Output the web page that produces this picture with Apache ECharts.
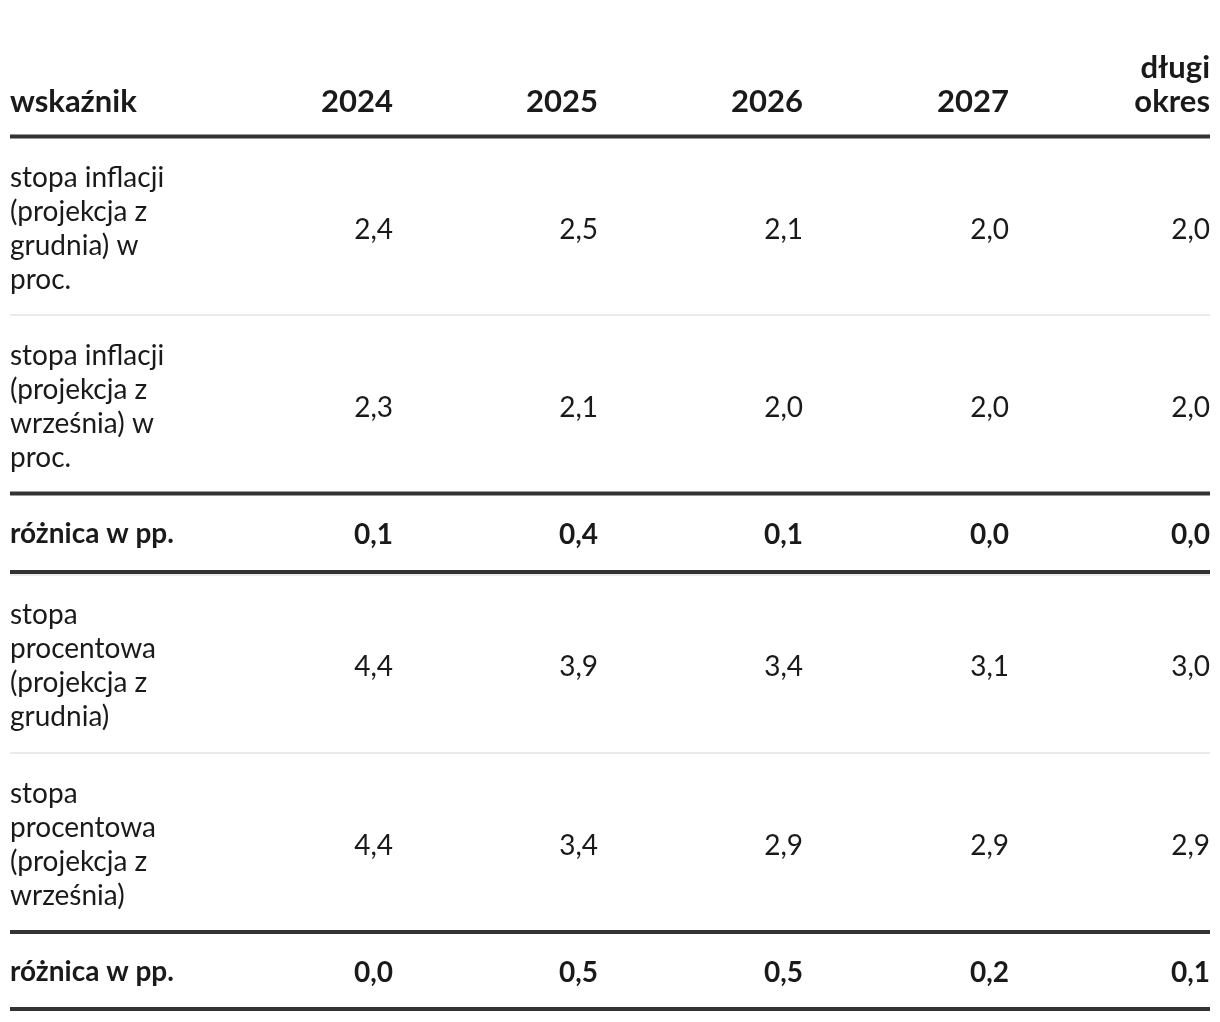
<!DOCTYPE html>
<html>
<head>
<meta charset="utf-8">
<script src="https://cdn.jsdelivr.net/npm/echarts@6/dist/echarts.min.js"></script>
<style>
html,body{margin:0;padding:0;background:#fff;}
#chart{width:1220px;height:1022px;}
</style>
</head>
<body>
<div id="chart"></div>
<script>
// ---- data ----
const headers = ['wskaźnik', '2024', '2025', '2026', '2027', 'długi\nokres'];
const rowLabels = [
  'stopa inflacji\n(projekcja z\ngrudnia) w\nproc.',
  'stopa inflacji\n(projekcja z\nwrześnia) w\nproc.',
  'różnica w pp.',
  'stopa\nprocentowa\n(projekcja z\ngrudnia)',
  'stopa\nprocentowa\n(projekcja z\nwrześnia)',
  'różnica w pp.'
];
const inflDec = [2.4, 2.5, 2.1, 2.0, 2.0];
const inflSep = [2.3, 2.1, 2.0, 2.0, 2.0];
const inflDiff = [0.1, 0.4, 0.1, 0.0, 0.0];
const rateDec = [4.4, 3.9, 3.4, 3.1, 3.0];
const rateSep = [4.4, 3.4, 2.9, 2.9, 2.9];
const rateDiff = [0.0, 0.5, 0.5, 0.2, 0.1];
const rowValues = [inflDec, inflSep, inflDiff, rateDec, rateSep, rateDiff];
const rowBold = [false, false, true, false, false, true];

// ---- layout ----
const FONT = 'Lato, "Noto Sans", sans-serif';
const TEXT = '#1a1a1a';
const leftX = 10, rightX = 1210;
const colRight = [393, 598, 803, 1009, 1210];
const headerBottom = 119;
const rowCenters = [230, 408, 535, 667, 846, 973];
const labelOffset = -1;
// separators: [y, height, color]
const seps = [
  [134.5, 4, '#333333'],
  [314, 2, '#ebebeb'],
  [491.5, 4, '#333333'],
  [570, 4, '#333333'],
  [574, 2, '#ebebeb'],
  [752, 2, '#ebebeb'],
  [930, 4, '#333333'],
  [1007, 4, '#333333']
];
const fmt = v => v.toFixed(1).replace('.', ',');

const elements = [];
seps.forEach(s => elements.push({
  type: 'rect', shape: {x: leftX, y: s[0], width: rightX - leftX, height: s[1]},
  style: {fill: s[2]}, silent: true
}));
headers.forEach((h, i) => elements.push({
  type: 'text',
  style: {
    text: h, x: i === 0 ? leftX : colRight[i - 1], y: headerBottom,
    textAlign: i === 0 ? 'left' : 'right', textVerticalAlign: 'bottom',
    font: 'bold 31px ' + FONT, lineHeight: 34, fill: TEXT
  }
}));
rowLabels.forEach((lab, r) => {
  const bold = rowBold[r] ? 'bold ' : '';
  elements.push({
    type: 'text',
    style: {
      text: lab, x: leftX, y: rowCenters[r] + labelOffset, textAlign: 'left', textVerticalAlign: 'middle',
      font: bold + '28px ' + FONT, lineHeight: 34.3, fill: TEXT
    }
  });
  rowValues[r].forEach((v, c) => elements.push({
    type: 'text',
    style: {
      text: fmt(v), x: colRight[c], y: rowCenters[r], textAlign: 'right', textVerticalAlign: 'middle',
      font: bold + '28px ' + FONT, fill: TEXT
    }
  }));
});

const chart = echarts.init(document.getElementById('chart'), null, {renderer: 'canvas'});
chart.setOption({
  backgroundColor: '#ffffff',
  animation: false,
  graphic: {elements: elements}
});
</script>
</body>
</html>
